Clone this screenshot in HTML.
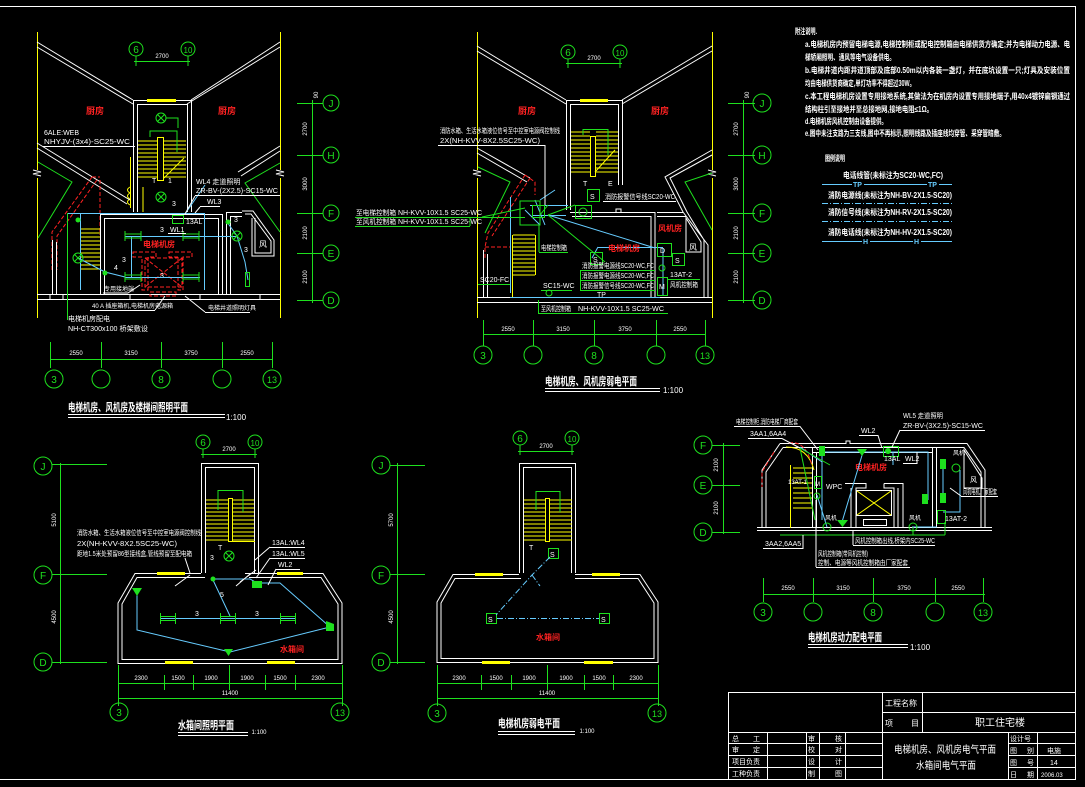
<!DOCTYPE html>
<html><head><meta charset="utf-8"><style>
html,body{margin:0;padding:0;background:#000;}
svg{display:block;}
.w{stroke:#fff;fill:none;stroke-width:1}
.y{stroke:#ff0;fill:none;stroke-width:1}
.g{stroke:#1ee01e;fill:none;stroke-width:1}
.c{stroke:#6cf;fill:none;stroke-width:1}
.r{stroke:#f22;fill:none;stroke-width:1}
.rd{stroke:#f22;fill:none;stroke-width:1;stroke-dasharray:4 2}
.cd{stroke:#6cf;fill:none;stroke-width:1;stroke-dasharray:6 2 1 2}
text{font-family:"Liberation Sans","Noto Sans CJK SC",sans-serif;fill:#fff;}
.t{font-size:8px;}
.s{font-size:7px;}
.d{font-size:6px;text-anchor:middle;}
.ax{font-size:10px;fill:#1ee01e;text-anchor:middle;}
.ti{font-size:11px;font-weight:bold;}
.rt{font-size:9px;fill:#f22;font-weight:bold;}
.nb text{font-weight:bold;}
</style></head><body>
<svg width="1085" height="787" viewBox="0 0 1085 787" xmlns="http://www.w3.org/2000/svg">
<rect width="1085" height="787" fill="#000"/>
<path class="w" d="M0,6.5 H1075.5 V779.5 H0"/>

<!-- ================= PLAN A ================= -->
<g>
<path class="y" d="M37.5,32 V170 M37.5,178 V318 M280.5,32 V170 M280.5,178 V318"/>
<path class="w" d="M33,170 l8,2 l-8,2 l8,2 M276,170 l8,2 l-8,2 l8,2"/>
<circle class="g" cx="136" cy="49" r="7"/><text class="ax" x="136" y="53">6</text>
<circle class="g" cx="188" cy="49" r="7"/><text class="ax" x="188" y="53" style="font-size:8px">10</text>
<path class="g" d="M136,56 V66 M188,56 V66 M134,61.5 H190"/>
<text class="d" x="162" y="58">2700</text>
<path class="w" d="M37,42 L133,100 M37,47 L133,104 M280,42 L191,100 M280,47 L187,104"/>
<path class="w" d="M133.5,212 V100.5 H191.5 V212 M137.5,212 V104.5 H187.5 V212"/>
<rect x="147" y="99" width="29" height="3" fill="#ff0"/>
<text class="rt" x="86" y="114">厨房</text>
<text class="rt" x="218" y="114">厨房</text>
<path class="y" d="M138,141H157M138,145H157M138,149H157M138,153H157M138,157H157M138,161H157M138,165H157M138,169H157M138,173H157M138,177H157 M164,141H186M164,145H186M164,149H186M164,153H186M164,157H186M164,161H186M164,165H186M164,169H186M164,173H186M164,177H186"/>
<rect class="y" x="157.5" y="137.5" width="6" height="43"/>
<path class="g" d="M150,137 V131 H177 V152"/>
<path class="y" d="M164,178 L184,158"/>
<text class="s" x="152" y="183">T</text><text class="s" x="168" y="183">1</text>
<circle class="g" cx="161" cy="118" r="5"/><path class="g" d="M157.5,114.5 l7,7 m0,-7 l-7,7 M166,118 H178 V128"/>
<circle class="g" cx="161" cy="197" r="5"/><path class="g" d="M157.5,193.5 l7,7 m0,-7 l-7,7"/>
<text class="s" x="172" y="206">3</text>
<path class="y" d="M130.5,157 V208 M130,187 q-5,3 0,6 q-5,3 0,6 q-5,3 0,6 M143,187 V212"/>
<path class="w" d="M37,143 L130,200 M37,148 L127,204 M280,146 L238,172 M280,151 L241,176"/>
<path class="w" d="M242,211 H253 L274,240 V256 H252 V218 M245,214 H251 L271,241 V253 H255 V218"/>
<text class="t" x="259" y="247">风</text>
<path class="g" d="M38,162 L72,182 L38,238 M280,163 L245,183 L280,232"/>
<path class="rd" d="M92,177 L52,232 V270 M97,180 L57,236 V270 M100,180 V235 M92,177 H100"/>
<path class="w" d="M37,294.5 H280 M37,299.5 H280 M50,294 V300 M63,294 V300 M130,294 V300 M200,294 V300 M260,294 V300"/>
<path class="w" d="M100.5,294 V214.5 H222.5 V294 M104.5,294 V218.5 H218.5 V294"/>
<path class="w" d="M52.5,294 V240 M56.5,294 V242 M70,213.5 H100 M226.5,294 V212.5 H242 M230.5,294 V216.5 H242"/>
<path class="y" d="M80,229H100M80,233H100M80,237H100M80,241H100M80,245H100M80,249H100M80,253H100M80,257H100M80,261H100M80,265H100M80,269H100 M80.5,229 V270"/>
<path class="rd" d="M133,252 H156 V257 H148 V290 H142 V257 H133 Z M169,252 H192 V257 H183 V290 H178 V257 H169 Z M145,258 H182 V287 H145 Z M145,258 L182,287 M182,258 L145,287 M150,292 H176 V296 H150 Z"/>
<text class="rt" x="143" y="247" style="font-size:8px">电梯机房</text>
<text class="s" x="160" y="278">3</text>
<path class="c" d="M68,213.5 H205 M125,236.5 H236 M204.5,213 V290 M125,277.5 H200 M131.5,236 V277 M80.5,213 V290 M78,258 L105,272 L125,277 M227,222 L237,236 L245,262 L248,280 M185,214 L205,185"/>
<path class="g" d="M67.5,213 V320"/>
<rect x="125" y="234" width="16" height="4" class="g"/><rect x="183" y="234" width="16" height="4" class="g"/>
<rect x="125" y="275" width="16" height="4" class="g"/><rect x="183" y="275" width="16" height="4" class="g"/>
<path class="g" d="M125,231V241M141,231V241M183,231V241M199,231V241M125,272V282M141,272V282M183,272V282M199,272V282"/>
<circle cx="78" cy="220" r="2.5" fill="#1ee01e"/><circle cx="228" cy="222" r="2.5" fill="#1ee01e"/><circle cx="105" cy="273" r="2.5" fill="#1ee01e"/>
<circle class="g" cx="78" cy="258" r="5"/><path class="g" d="M74.5,254.5l7,7m0,-7l-7,7"/>
<circle class="g" cx="237" cy="236" r="5"/><path class="g" d="M233.5,232.5l7,7m0,-7l-7,7"/>
<rect class="g" x="245.5" y="272.5" width="4" height="14"/>
<rect class="g" x="172.5" y="215.5" width="11" height="8"/>
<text class="s" x="196" y="184">WL4 走道照明</text>
<text class="s" x="196" y="193" textLength="82" lengthAdjust="spacingAndGlyphs">ZR-BV-(2X2.5)-SC15-WC</text>
<path class="w" d="M195,195.5 H280 M185,214 L195,196"/>
<text class="s" x="207" y="204">WL3</text><path class="w" d="M200,206.5 H220 M195,213 L200,207"/>
<text class="s" x="186" y="224">13AL</text>
<text class="s" x="170" y="232">WL1</text><path class="w" d="M168,233.5 H186"/>
<text class="s" x="160" y="232">3</text><text class="s" x="122" y="262">3</text><text class="s" x="114" y="270">4</text>
<text class="s" x="234" y="222">3</text><text class="s" x="244" y="252">3</text>
<text class="s" x="104" y="291" style="font-size:6px">专用接地端</text><path class="w" d="M103,293 H128 M128,293 L140,285"/>
<text class="s" x="92" y="308" style="font-size:6px">40 A 插座箱机,电梯机房电源箱</text><path class="w" d="M90,310.5 H155 M155,310 L165,296"/>
<text class="s" x="208" y="310" style="font-size:6px">电梯井道照明灯具</text><path class="w" d="M205,312.5 H250 M205,312 L185,296"/>
<text class="s" x="68" y="321" style="font-size:7px">电梯机房配电</text>
<text class="s" x="68" y="331" textLength="80" lengthAdjust="spacingAndGlyphs">NH-CT300x100 桥架敷设</text>
<text class="s" x="44" y="135">6ALE:WEB</text>
<text class="s" x="44" y="144" textLength="86" lengthAdjust="spacingAndGlyphs">NHYJV-(3x4)-SC25-WC</text>
<path class="w" d="M43,146.5 H135"/>
<path class="g" d="M312.5,100 V303 M297,103.5 H323 M297,155.5 H323 M297,213.5 H323 M297,253.5 H323 M297,300.5 H323"/>
<circle class="g" cx="331" cy="103" r="8"/><text class="ax" x="331" y="107">J</text>
<circle class="g" cx="331" cy="155" r="8"/><text class="ax" x="331" y="159">H</text>
<circle class="g" cx="331" cy="213" r="8"/><text class="ax" x="331" y="217">F</text>
<circle class="g" cx="331" cy="253" r="8"/><text class="ax" x="331" y="257">E</text>
<circle class="g" cx="331" cy="300" r="8"/><text class="ax" x="331" y="304">D</text>
<text class="d" transform="translate(307,129) rotate(-90)">2700</text>
<text class="d" transform="translate(307,184) rotate(-90)">3000</text>
<text class="d" transform="translate(307,233) rotate(-90)">2100</text>
<text class="d" transform="translate(307,277) rotate(-90)">2100</text>
<text class="d" transform="translate(318,95) rotate(-90)">90</text>
<path class="g" d="M50,359.5 H272 M50.5,342 V368 M101.5,342 V368 M161.5,342 V368 M222.5,342 V368 M272.5,342 V368"/>
<circle class="g" cx="54" cy="379" r="9"/><text class="ax" x="54" y="383">3</text>
<circle class="g" cx="101" cy="379" r="9"/>
<circle class="g" cx="161" cy="379" r="9"/><text class="ax" x="161" y="383">8</text>
<circle class="g" cx="222" cy="379" r="9"/>
<circle class="g" cx="272" cy="379" r="9"/><text class="ax" x="272" y="383" style="font-size:9px">13</text>
<text class="d" x="76" y="355">2550</text><text class="d" x="131" y="355">3150</text><text class="d" x="191" y="355">3750</text><text class="d" x="247" y="355">2550</text>
<text class="ti" x="68" y="411" textLength="120" lengthAdjust="spacingAndGlyphs">电梯机房、风机房及楼梯间照明平面</text>
<path class="w" d="M68,414.5 H225 M68,417.5 H225"/>
<text class="t" x="226" y="420">1:100</text>
</g>

<!-- ================= PLAN B ================= -->
<g>
<path class="y" d="M477.5,32 V170 M477.5,178 V318 M712.5,32 V170 M712.5,178 V318"/>
<path class="w" d="M473,170 l8,2 l-8,2 l8,2 M708,170 l8,2 l-8,2 l8,2"/>
<circle class="g" cx="568" cy="52" r="7"/><text class="ax" x="568" y="56">6</text>
<circle class="g" cx="620" cy="52" r="7"/><text class="ax" x="620" y="56" style="font-size:8px">10</text>
<path class="g" d="M568,59 V68 M620,59 V68 M566,63.5 H622"/>
<text class="d" x="594" y="60">2700</text>
<path class="w" d="M477,46 L566,100 M477,51 L566,104 M712,46 L622,100 M712,51 L622,104"/>
<path class="w" d="M566.5,210 V100.5 H622.5 V185 M570.5,210 V104.5 H618.5 V185"/>
<rect x="580" y="99" width="28" height="3" fill="#ff0"/>
<text class="rt" x="518" y="114">厨房</text>
<text class="rt" x="651" y="114">厨房</text>
<path class="y" d="M571,132H590M571,136H590M571,140H590M571,144H590M571,148H590M571,152H590M571,156H590M571,160H590M571,164H590M571,168H590M571,172H590 M596,132H618M596,136H618M596,140H618M596,144H618M596,148H618M596,152H618M596,156H618M596,160H618M596,164H618M596,168H618M596,172H618"/>
<rect class="y" x="590.5" y="136.5" width="5" height="40"/>
<path class="g" d="M583,135 V129.5 H608 V155"/>
<path class="y" d="M595,172 L615,150"/>
<text class="s" x="583" y="186">T</text><text class="s" x="608" y="186">E</text>
<path class="w" d="M477,148 L530,178 M477,153 L527,182 M712,150 L665,177 L683,212 L708,245 V297 M712,155 L670,178 L687,212 L704,240 V297"/>
<path class="w" d="M686,218 L701,242 V252 H686 Z"/>
<text class="t" x="689" y="250">风</text>
<path class="g" d="M478,167 L510,182 L485,233 M712,173 L685,182 L712,230"/>
<path class="rd" d="M525,175 L488,233 L485,247 V258 M525,175 L535,182 V195 M485,247 H510 M530,178 L492,236"/>
<path class="w" d="M477,297.5 H712 M477,302.5 H712 M483.5,297 V250 M487.5,297 V254"/>
<path class="w" d="M570,212.5 H655 V297 M572,216.5 H651 V297 M616,212 V209 H621 V212 M657,212.5 H683 M657,216.5 H686"/>
<path class="y" d="M513,235H535M513,239H535M513,243H535M513,247H535M513,251H535M513,255H535M513,259H535M513,263H535M513,267H535M513,271H535M513,275H535 M512.5,235 V297 M535.5,235 V275"/>
<path class="c" d="M530,205.5 H568 M532,215.5 H566 M548,215 L655,248 M598,247.5 H663 M510.5,197 V293 M510,297.5 H660 M598,247 L592,258 M663,248 V295 M535,200 L545,225 M540,200 L555,190 M525,210 L540,225"/>
<path class="g" d="M520,201 H540 V225 H520 Z M548,205 L540,215 M548,215 L575,205 M548,215 L605,262"/>
<rect class="g" x="587.5" y="189.5" width="12" height="12"/><text class="s" x="590" y="199">S</text>
<rect class="g" x="575.5" y="205.5" width="16" height="13"/><circle class="g" cx="583" cy="212" r="4"/>
<rect class="g" x="532.5" y="205.5" width="12" height="12"/>
<rect class="g" x="657.5" y="243.5" width="14" height="13"/><text class="s" x="660" y="253">D</text>
<rect class="g" x="590.5" y="252.5" width="12" height="12"/><text class="s" x="593" y="262">S</text>
<rect class="g" x="672.5" y="253.5" width="12" height="12"/><text class="s" x="675" y="263">S</text>
<rect class="g" x="657.5" y="277.5" width="10" height="18"/><text class="s" x="659" y="289">M</text>
<circle class="g" cx="662" cy="268" r="3"/>
<circle class="g" cx="549" cy="293" r="3"/>
<text class="s" x="440" y="133" textLength="120" lengthAdjust="spacingAndGlyphs">消防水箱、生活水箱液位信号至中控室电源阀控制线</text>
<text class="s" x="440" y="143" textLength="100" lengthAdjust="spacingAndGlyphs">2X(NH-KVV-8X2.5SC25-WC)</text>
<path class="w" d="M438,145.5 H545 M545,145 L545,205"/>
<text class="s" x="356" y="215" textLength="40" lengthAdjust="spacingAndGlyphs">至电梯控制箱</text>
<text class="s" x="398" y="215" textLength="84" lengthAdjust="spacingAndGlyphs">NH-KVV-10X1.5 SC25-WC</text>
<text class="s" x="356" y="224" textLength="40" lengthAdjust="spacingAndGlyphs">至风机控制箱</text>
<text class="s" x="398" y="224" textLength="84" lengthAdjust="spacingAndGlyphs">NH-KVV-10X1.5 SC25-WC</text>
<path class="g" d="M355,217.5 H525 M355,226.5 H470 M470,226 V217 M482,217 L525,208"/>
<text class="s" x="605" y="199" textLength="70" lengthAdjust="spacingAndGlyphs">消防报警信号线SC20-WC</text>
<path class="w" d="M603,201.5 H676"/>
<text class="s" x="541" y="250" textLength="26" lengthAdjust="spacingAndGlyphs">电梯控制箱</text>
<path class="g" d="M539,252.5 H568 M539,252 V225"/>
<text class="rt" x="608" y="251" style="font-size:8px">电梯机房</text>
<text class="rt" x="658" y="231" style="font-size:8px">风机房</text>
<text class="s" x="480" y="282">SC20-FC</text><path class="g" d="M478,284.5 H510"/>
<text class="s" x="543" y="288">SC15-WC</text><path class="g" d="M541,290.5 H572"/>
<text class="s" x="597" y="297">TP</text>
<text class="s" x="582" y="268" textLength="72" lengthAdjust="spacingAndGlyphs">消防报警电源线SC20-WC,FC</text>
<text class="s" x="582" y="278" textLength="72" lengthAdjust="spacingAndGlyphs">消防报警电源线SC20-WC,FC</text>
<text class="s" x="582" y="288" textLength="72" lengthAdjust="spacingAndGlyphs">消防报警信号线SC20-WC,FC</text>
<path class="g" d="M580,270.5 H655 M580,280.5 H655 M580,290.5 H655 M580.5,270 V291"/>
<text class="s" x="670" y="277">13AT-2</text>
<text class="s" x="670" y="287" textLength="28" lengthAdjust="spacingAndGlyphs">风机控制箱</text>
<path class="g" d="M668,279.5 H700"/>
<text class="s" x="541" y="311" textLength="30" lengthAdjust="spacingAndGlyphs">至风机控制箱</text>
<text class="s" x="578" y="311" textLength="86" lengthAdjust="spacingAndGlyphs">NH-KVV-10X1.5 SC25-WC</text>
<path class="g" d="M538,313.5 H668 M538.5,300 V313"/>
<path class="g" d="M743.5,100 V303 M728,103.5 H755 M728,155.5 H755 M728,213.5 H755 M728,253.5 H755 M728,300.5 H755"/>
<circle class="g" cx="762" cy="103" r="9"/><text class="ax" x="762" y="107">J</text>
<circle class="g" cx="762" cy="155" r="9"/><text class="ax" x="762" y="159">H</text>
<circle class="g" cx="762" cy="213" r="9"/><text class="ax" x="762" y="217">F</text>
<circle class="g" cx="762" cy="253" r="9"/><text class="ax" x="762" y="257">E</text>
<circle class="g" cx="762" cy="300" r="9"/><text class="ax" x="762" y="304">D</text>
<text class="d" transform="translate(738,129) rotate(-90)">2700</text>
<text class="d" transform="translate(738,184) rotate(-90)">3000</text>
<text class="d" transform="translate(738,233) rotate(-90)">2100</text>
<text class="d" transform="translate(738,277) rotate(-90)">2100</text>
<text class="d" transform="translate(749,95) rotate(-90)">90</text>
<path class="g" d="M483,334.5 H705 M483.5,320 V346 M533.5,320 V346 M594.5,320 V346 M656.5,320 V346 M705.5,320 V346"/>
<circle class="g" cx="483" cy="355" r="9"/><text class="ax" x="483" y="359">3</text>
<circle class="g" cx="533" cy="355" r="9"/>
<circle class="g" cx="594" cy="355" r="9"/><text class="ax" x="594" y="359">8</text>
<circle class="g" cx="656" cy="355" r="9"/>
<circle class="g" cx="705" cy="355" r="9"/><text class="ax" x="705" y="359" style="font-size:9px">13</text>
<text class="d" x="508" y="331">2550</text><text class="d" x="563" y="331">3150</text><text class="d" x="625" y="331">3750</text><text class="d" x="680" y="331">2550</text>
<text class="ti" x="545" y="385" textLength="92" lengthAdjust="spacingAndGlyphs">电梯机房、风机房弱电平面</text>
<path class="w" d="M545,388.5 H660 M545,391.5 H660"/>
<text class="t" x="663" y="393">1:100</text>
</g>

<!-- ================= NOTES ================= -->
<g class="nb">
<text class="t" x="795" y="34" textLength="22" lengthAdjust="spacingAndGlyphs">附注说明.</text>
<text class="t" x="805" y="47" textLength="265" lengthAdjust="spacingAndGlyphs">a.电梯机房内预留电梯电源,电梯控制柜或配电控制箱由电梯供货方确定;并为电梯动力电源、电</text>
<text class="t" x="805" y="60" textLength="90" lengthAdjust="spacingAndGlyphs">梯轿厢照明、通风等电气设备供电。</text>
<text class="t" x="805" y="73" textLength="265" lengthAdjust="spacingAndGlyphs">b.电梯井道内距井道顶部及底部0.50m以内各装一盏灯，并在底坑设置一只;灯具及安装位置</text>
<text class="t" x="805" y="86" textLength="110" lengthAdjust="spacingAndGlyphs">均由电梯供货商确定,单灯功率不得超过30W。</text>
<text class="t" x="805" y="99" textLength="265" lengthAdjust="spacingAndGlyphs">c.本工程电梯机房设置专用接地系统,其做法为在机房内设置专用接地端子,用40x4镀锌扁钢通过</text>
<text class="t" x="805" y="112" textLength="128" lengthAdjust="spacingAndGlyphs">结构柱引至接地并至总接地网,接地电阻≤1Ω。</text>
<text class="t" x="805" y="124" textLength="82" lengthAdjust="spacingAndGlyphs">d.电梯机房风机控制由设备提供。</text>
<text class="t" x="805" y="136" textLength="200" lengthAdjust="spacingAndGlyphs">e.图中未注支路为三支线,图中不再标示,照明线路及插座线均穿管、采穿管暗敷。</text>
<text class="t" x="825" y="161" textLength="20" lengthAdjust="spacingAndGlyphs">图例说明</text>
<text class="t" x="843" y="178" textLength="100" lengthAdjust="spacingAndGlyphs">电话线管(未标注为SC20-WC,FC)</text>
<path class="c" d="M822,184.5 H852 M864,184.5 H927 M939,184.5 H952"/>
<text class="s" x="853" y="187" style="fill:#6cf">TP</text><text class="s" x="928" y="187" style="fill:#6cf">TP</text>
<text class="t" x="828" y="198" textLength="124" lengthAdjust="spacingAndGlyphs">消防电源线(未标注为NH-BV-2X1.5-SC20)</text>
<path class="cd" d="M822,203.5 H952"/>
<text class="t" x="828" y="215" textLength="124" lengthAdjust="spacingAndGlyphs">消防信号线(未标注为NH-RV-2X1.5-SC20)</text>
<path class="cd" d="M822,221.5 H952"/>
<text class="t" x="828" y="235" textLength="124" lengthAdjust="spacingAndGlyphs">消防电话线(未标注为NH-HV-2X1.5-SC20)</text>
<path class="c" d="M822,241.5 H862 M870,241.5 H913 M921,241.5 H952"/>
<text class="s" x="863" y="244" style="fill:#6cf">H</text><text class="s" x="914" y="244" style="fill:#6cf">H</text>
</g>

<!-- ================= PLAN C ================= -->
<g>
<circle class="g" cx="203" cy="442" r="7"/><text class="ax" x="203" y="446">6</text>
<circle class="g" cx="255" cy="442" r="7"/><text class="ax" x="255" y="446" style="font-size:8px">10</text>
<path class="g" d="M203,449 V458 M255,449 V458 M201,454.5 H257"/>
<text class="d" x="229" y="451">2700</text>
<path class="w" d="M201.5,573 V463.5 H258.5 V573 M205.5,573 V467.5 H254.5 V573"/>
<path class="y" d="M206,500H228M206,504H228M206,508H228M206,512H228M206,516H228M206,520H228M206,524H228M206,528H228M206,532H228M206,536H228M206,540H228 M233,500H254M233,504H254M233,508H254M233,512H254M233,516H254M233,520H254M233,524H254M233,528H254M233,532H254M233,536H254M233,540H254 M228,541.5H255"/>
<rect class="y" x="228.5" y="498.5" width="4" height="43"/>
<path class="g" d="M218,510 V490.5 H243 V512"/>
<text class="s" x="218" y="550">T</text>
<circle class="g" cx="229" cy="556" r="5"/><path class="g" d="M225.5,552.5l7,7m0,-7l-7,7"/>
<text class="s" x="210" y="560">3</text>
<path class="w" d="M201,573.5 H135 L118,603 V663.5 H342 V603 L323,573.5 H245 M205,577.5 H137 L122,604 V659.5 H338 V604 L321,577.5 H249"/>
<rect x="157" y="572" width="28" height="3" fill="#ff0"/><rect x="277" y="572" width="26" height="3" fill="#ff0"/>
<rect x="165" y="661" width="28" height="3" fill="#ff0"/><rect x="267" y="661" width="28" height="3" fill="#ff0"/>
<circle class="g" cx="43" cy="466" r="9"/><text class="ax" x="43" y="470">J</text>
<circle class="g" cx="43" cy="575" r="9"/><text class="ax" x="43" y="579">F</text>
<circle class="g" cx="43" cy="662" r="9"/><text class="ax" x="43" y="666">D</text>
<path class="g" d="M60.5,463 V664 M52,464.5 H107 M52,574.5 H107 M52,662.5 H107"/>
<text class="d" transform="translate(56,520) rotate(-90)">5100</text>
<text class="d" transform="translate(56,617) rotate(-90)">4500</text>
<path class="g" d="M118,683.5 H342 M118,698.5 H342 M118.5,665 V706 M164.5,675 V690 M193.5,675 V690 M229.5,665 V690 M265.5,675 V690 M295.5,675 V690 M342.5,665 V706"/>
<text class="d" x="141" y="680">2300</text><text class="d" x="178" y="680">1500</text><text class="d" x="211" y="680">1900</text><text class="d" x="247" y="680">1900</text><text class="d" x="280" y="680">1500</text><text class="d" x="318" y="680">2300</text>
<text class="d" x="230" y="695">11400</text>
<circle class="g" cx="119" cy="712" r="9"/><text class="ax" x="119" y="716">3</text>
<circle class="g" cx="340" cy="712" r="9"/><text class="ax" x="340" y="716" style="font-size:9px">13</text>
<path class="c" d="M137,592 V630 L230,652 L330,627 L280,583 H257 M160,618.5 H295 M213,580 L230,616 M213,579 H250 L257,583"/>
<rect class="g" x="160.5" y="616.5" width="15" height="4"/><rect class="g" x="220.5" y="616.5" width="15" height="4"/><rect class="g" x="280.5" y="616.5" width="15" height="4"/>
<path class="g" d="M160.5,613V624M175.5,613V624M220.5,613V624M235.5,613V624M280.5,613V624M295.5,613V624"/>
<text class="s" x="195" y="616">3</text><text class="s" x="255" y="616">3</text><text class="s" x="220" y="597">5</text>
<path d="M132,588 L142,588 L137,596 Z" fill="#1ee01e"/>
<path d="M326,621 L334,624 L334,631 L326,631 Z" fill="#1ee01e"/>
<path d="M224,649 L233,649 L228.5,656 Z" fill="#1ee01e"/>
<path d="M252,581 L262,581 L262,588 L252,588 Z" fill="#1ee01e"/>
<circle cx="213" cy="579" r="2.5" fill="#1ee01e"/>
<path class="w" d="M175,586 L190,575 M236,586 L250,574 M240,582 L256,570"/>
<text class="rt" x="280" y="652" style="font-size:8px">水箱间</text>
<text class="s" x="77" y="535" textLength="124" lengthAdjust="spacingAndGlyphs">消防水箱、生活水箱液位信号至中控室电源阀控制线</text>
<text class="s" x="77" y="546" textLength="100" lengthAdjust="spacingAndGlyphs">2X(NH-KVV-8X2.5SC25-WC)</text>
<text class="s" x="77" y="556" textLength="115" lengthAdjust="spacingAndGlyphs">距地1.5米处预留86型接线盒,管线预留至配电箱</text>
<path class="w" d="M185,558 L190,573"/>
<text class="s" x="272" y="545">13AL:WL4</text><path class="w" d="M270,547.5 H305 M270,547 L255,560"/>
<text class="s" x="272" y="556">13AL:WL5</text><path class="w" d="M270,558.5 H305 M270,558 L256,578"/>
<text class="s" x="278" y="567">WL2</text><path class="w" d="M276,569.5 H300 M276,569 L268,585"/>
<text class="ti" x="178" y="729" textLength="56" lengthAdjust="spacingAndGlyphs">水箱间照明平面</text>
<path class="w" d="M178,732.5 H248 M178,735.5 H248"/>
<text class="d" x="259" y="734">1:100</text>
</g>

<!-- ================= PLAN D ================= -->
<g>
<circle class="g" cx="520" cy="438" r="7"/><text class="ax" x="520" y="442">6</text>
<circle class="g" cx="572" cy="438" r="7"/><text class="ax" x="572" y="442" style="font-size:8px">10</text>
<path class="g" d="M520,445 V455 M572,445 V455 M518,451.5 H574"/>
<text class="d" x="546" y="448">2700</text>
<path class="w" d="M519.5,573 V463.5 H575.5 V573 M523.5,573 V467.5 H571.5 V573"/>
<path class="y" d="M524,500H545M524,504H545M524,508H545M524,512H545M524,516H545M524,520H545M524,524H545M524,528H545M524,532H545M524,536H545M524,540H545 M550,500H572M550,504H572M550,508H572M550,512H572M550,516H572M550,520H572M550,524H572M550,528H572M550,532H572M550,536H572M550,540H572"/>
<rect class="y" x="545.5" y="498.5" width="4" height="43"/>
<path class="g" d="M536,510 V491.5 H560 V512"/>
<text class="s" x="529" y="550">T</text>
<path class="w" d="M519,574.5 H453 L437,602 V662.5 H658 V602 L640,574.5 H575 M521,578.5 H455 L441,603 V658.5 H654 V603 L638,578.5 H575"/>
<rect x="475" y="573" width="28" height="3" fill="#ff0"/><rect x="592" y="573" width="28" height="3" fill="#ff0"/>
<rect x="482" y="661" width="28" height="3" fill="#ff0"/><rect x="584" y="661" width="29" height="3" fill="#ff0"/>
<circle class="g" cx="381" cy="465" r="9"/><text class="ax" x="381" y="469">J</text>
<circle class="g" cx="381" cy="575" r="9"/><text class="ax" x="381" y="579">F</text>
<circle class="g" cx="381" cy="662" r="9"/><text class="ax" x="381" y="666">D</text>
<path class="g" d="M397.5,463 V664 M390,465.5 H425 M390,574.5 H425 M390,662.5 H425"/>
<text class="d" transform="translate(393,520) rotate(-90)">5700</text>
<text class="d" transform="translate(393,617) rotate(-90)">4500</text>
<path class="g" d="M437,683.5 H658 M437,698.5 H658 M437.5,665 V706 M481.5,675 V690 M511.5,675 V690 M547.5,665 V690 M584.5,675 V690 M613.5,675 V690 M658.5,665 V706"/>
<text class="d" x="459" y="680">2300</text><text class="d" x="496" y="680">1500</text><text class="d" x="529" y="680">1900</text><text class="d" x="566" y="680">1900</text><text class="d" x="599" y="680">1500</text><text class="d" x="636" y="680">2300</text>
<text class="d" x="547" y="695">11400</text>
<circle class="g" cx="437" cy="713" r="9"/><text class="ax" x="437" y="717">3</text>
<circle class="g" cx="657" cy="713" r="9"/><text class="ax" x="657" y="717" style="font-size:9px">13</text>
<rect class="g" x="548.5" y="548.5" width="10" height="10"/><text class="s" x="550" y="557">S</text>
<rect class="g" x="486.5" y="613.5" width="10" height="10"/><text class="s" x="488" y="622">S</text>
<rect class="g" x="599.5" y="613.5" width="10" height="10"/><text class="s" x="601" y="622">S</text>
<path class="cd" d="M550,557 L532,575 L496,615 M497,618.5 H599 M532,575 L540,586"/>
<text class="rt" x="536" y="640" style="font-size:8px">水箱间</text>
<text class="ti" x="498" y="727" textLength="62" lengthAdjust="spacingAndGlyphs">电梯机房弱电平面</text>
<path class="w" d="M498,731.5 H575 M498,734.5 H575"/>
<text class="d" x="587" y="733">1:100</text>
</g>

<!-- ================= PLAN E ================= -->
<g>
<circle class="g" cx="703" cy="445" r="9"/><text class="ax" x="703" y="449">F</text>
<circle class="g" cx="703" cy="485" r="9"/><text class="ax" x="703" y="489">E</text>
<circle class="g" cx="703" cy="532" r="9"/><text class="ax" x="703" y="536">D</text>
<path class="g" d="M723.5,443 V534 M712,445.5 H740 M712,485.5 H740 M712,532.5 H740"/>
<text class="d" transform="translate(718,465) rotate(-90)">2100</text>
<text class="d" transform="translate(718,508) rotate(-90)">2100</text>
<path class="w" d="M780,443.5 H846 V441 H850 V443.5 H967 L985,470 V527 M780,443.5 L762,470 V527 M783,447.5 H964 L981,472 V527 M783,447.5 L766,472 V527"/>
<path class="w" d="M757,527.5 H992 M757,530.5 H992"/>
<path class="w" d="M812.5,447 V527 M816.5,452 V527 M932.5,447 V527 M936.5,447 V527 M813,452.5 H932"/>
<path class="w" d="M964,450 L982,478 V488 H964 Z"/>
<text class="s" x="970" y="482">风</text>
<path class="y" d="M793,468H812M793,473H812M793,478H812M793,483H812M793,488H812M793,493H812M793,498H812M793,503H812M793,508H812 M790.5,465 V528"/>
<path class="y" d="M786,447 Q808,447 814,470"/>
<path class="rd" d="M774,452 L762,472 V487 M789,443 Q806,440 812,466"/>
<path class="w" d="M845,483.5 H866 V488 H856 V527 M851,488 V527 M884,483.5 H903 V527 M884,483.5 V488 H894 V527 M898,488 V527"/>
<rect class="w" x="856.5" y="490.5" width="35" height="25"/>
<path class="y" d="M857,491 L891,515 M891,491 L857,515"/>
<rect class="w" x="863.5" y="519.5" width="23" height="6"/>
<text class="rt" x="855" y="470" style="font-size:8px">电梯机房</text>
<path class="c" d="M822,452 H928 V500 M863,452 L842,522 M893,452 V465 M822,452 V520 M800,447 L822,462 M827,527 L817,495 M912,527 H937 M943,463 V500 M943,512 H960 V470"/>
<path class="g" d="M800,448 L815,520 M913,527 V535 M780,535 H945 M945,535 V522 M798,447 L830,465"/>
<rect x="819" y="446" width="6" height="10" fill="#1ee01e"/>
<path d="M857,449 L867,449 L862,456 Z" fill="#1ee01e"/>
<rect class="g" x="883.5" y="446.5" width="15" height="10"/><circle cx="888" cy="451" r="3" fill="#1ee01e"/>
<rect class="g" x="814.5" y="476.5" width="7" height="12"/><text class="s" x="815" y="486" style="font-size:6px">M</text>
<circle class="g" cx="817" cy="496" r="3"/>
<path d="M837,520 L848,520 L842.5,527 Z" fill="#1ee01e"/>
<circle class="g" cx="827" cy="527" r="4"/><circle class="g" cx="913" cy="527" r="4"/>
<rect x="940" y="459" width="6" height="10" fill="#1ee01e"/>
<circle class="g" cx="956" cy="468" r="4"/>
<rect x="922" y="494" width="6" height="10" fill="#1ee01e"/><rect x="940" y="493" width="6" height="10" fill="#1ee01e"/>
<rect class="g" x="937.5" y="510.5" width="8" height="13"/>
<text class="s" x="736" y="424" textLength="62" lengthAdjust="spacingAndGlyphs">电梯控制柜,消防电梯厂商配套</text>
<path class="w" d="M734,426.5 H800 L818,450"/>
<text class="s" x="750" y="436">3AA1,6AA4</text><path class="w" d="M748,438.5 H782 L800,448"/>
<text class="s" x="903" y="418" textLength="40" lengthAdjust="spacingAndGlyphs">WL5 走道照明</text>
<text class="s" x="903" y="428" textLength="80" lengthAdjust="spacingAndGlyphs">ZR-BV-(3X2.5)-SC15-WC</text>
<path class="w" d="M900,430.5 H985 M900,430 L892,447"/>
<text class="s" x="861" y="433">WL2</text><path class="w" d="M859,435.5 H878 L882,448"/>
<text class="s" x="884" y="461">13AL</text>
<text class="s" x="905" y="461">WL2</text><path class="w" d="M903,463.5 H917 V452"/>
<text class="s" x="788" y="484" style="font-size:6px">13AT-1</text>
<text class="s" x="826" y="489">WPC</text>
<text class="s" x="825" y="520" style="font-size:6px">风机</text>
<text class="s" x="909" y="520" style="font-size:6px">风机</text>
<text class="s" x="945" y="521">13AT-2</text>
<text class="s" x="953" y="455" style="font-size:6px">风机</text>
<text class="s" x="963" y="494" textLength="34" lengthAdjust="spacingAndGlyphs">风机电机,厂家配套</text>
<path class="w" d="M961,496.5 H998 M961,496 L950,488"/>
<text class="s" x="765" y="546">3AA2,6AA5</text><path class="w" d="M763,548.5 H803 V535"/>
<text class="s" x="855" y="543" textLength="80" lengthAdjust="spacingAndGlyphs">风机控制箱出线,桥架内SC25-WC</text>
<path class="w" d="M853,545.5 H935 M853,545 V530"/>
<text class="s" x="818" y="556" textLength="50" lengthAdjust="spacingAndGlyphs">风机控制箱(带风机控制)</text>
<text class="s" x="818" y="565" textLength="90" lengthAdjust="spacingAndGlyphs">控制、电源等风机控制箱由厂家配套</text>
<path class="w" d="M816,567.5 H910 M816,567 V500"/>
<path class="g" d="M763,594.5 H985 M763.5,578 V602 M813.5,578 V602 M873.5,578 V602 M935.5,578 V602 M983.5,578 V602"/>
<circle class="g" cx="763" cy="612" r="9"/><text class="ax" x="763" y="616">3</text>
<circle class="g" cx="813" cy="612" r="9"/>
<circle class="g" cx="873" cy="612" r="9"/><text class="ax" x="873" y="616">8</text>
<circle class="g" cx="935" cy="612" r="9"/>
<circle class="g" cx="983" cy="612" r="9"/><text class="ax" x="983" y="616" style="font-size:9px">13</text>
<text class="d" x="788" y="590">2550</text><text class="d" x="843" y="590">3150</text><text class="d" x="904" y="590">3750</text><text class="d" x="958" y="590">2550</text>
<text class="ti" x="808" y="641" textLength="74" lengthAdjust="spacingAndGlyphs">电梯机房动力配电平面</text>
<path class="w" d="M808,644.5 H908 M808,647.5 H908"/>
<text class="t" x="910" y="650">1:100</text>
</g>

<!-- ================= TITLE BLOCK ================= -->
<g>
<path class="w" d="M728.5,779 V692.5 H1075 M728,732.5 H1075 M882.5,692 V779 M922.5,692 V732 M882,712.5 H1075 M728,743.5 H882 M728,755.5 H882 M728,767.5 H882 M767.5,732 V779 M806.5,732 V779 M819.5,732 V779 M845.5,732 V779 M1008.5,732 V779 M1037.5,732 V779 M1008,743.5 H1075 M1008,755.5 H1075 M1008,767.5 H1075"/>
<text class="t" x="885" y="706">工程名称</text>
<text class="t" x="885" y="726" textLength="34" lengthAdjust="spacing">项 目</text>
<text class="t" x="975" y="726" style="font-size:10px">职工住宅楼</text>
<text class="s" x="732" y="741" textLength="28" lengthAdjust="spacing">总 工</text>
<text class="s" x="732" y="752" textLength="28" lengthAdjust="spacing">审 定</text>
<text class="s" x="732" y="764">项目负责</text>
<text class="s" x="732" y="776">工种负责</text>
<text class="s" x="808" y="741" textLength="34" lengthAdjust="spacing">审 核</text>
<text class="s" x="808" y="752" textLength="34" lengthAdjust="spacing">校 对</text>
<text class="s" x="808" y="764" textLength="34" lengthAdjust="spacing">设 计</text>
<text class="s" x="808" y="776" textLength="34" lengthAdjust="spacing">制 图</text>
<text class="t" x="894" y="753" style="font-size:10px" textLength="102" lengthAdjust="spacingAndGlyphs">电梯机房、风机房电气平面</text>
<text class="t" x="916" y="769" style="font-size:10px" textLength="60" lengthAdjust="spacingAndGlyphs">水箱间电气平面</text>
<text class="s" x="1010" y="741">设计号</text>
<text class="s" x="1010" y="753" textLength="24" lengthAdjust="spacing">图 别</text>
<text class="s" x="1010" y="765" textLength="24" lengthAdjust="spacing">图 号</text>
<text class="s" x="1010" y="777" textLength="24" lengthAdjust="spacing">日 期</text>
<text class="s" x="1047" y="753">电施</text>
<text class="s" x="1050" y="765">14</text>
<text class="s" x="1041" y="777" style="font-size:6px">2006.03</text>
</g>
</svg>
</body></html>
